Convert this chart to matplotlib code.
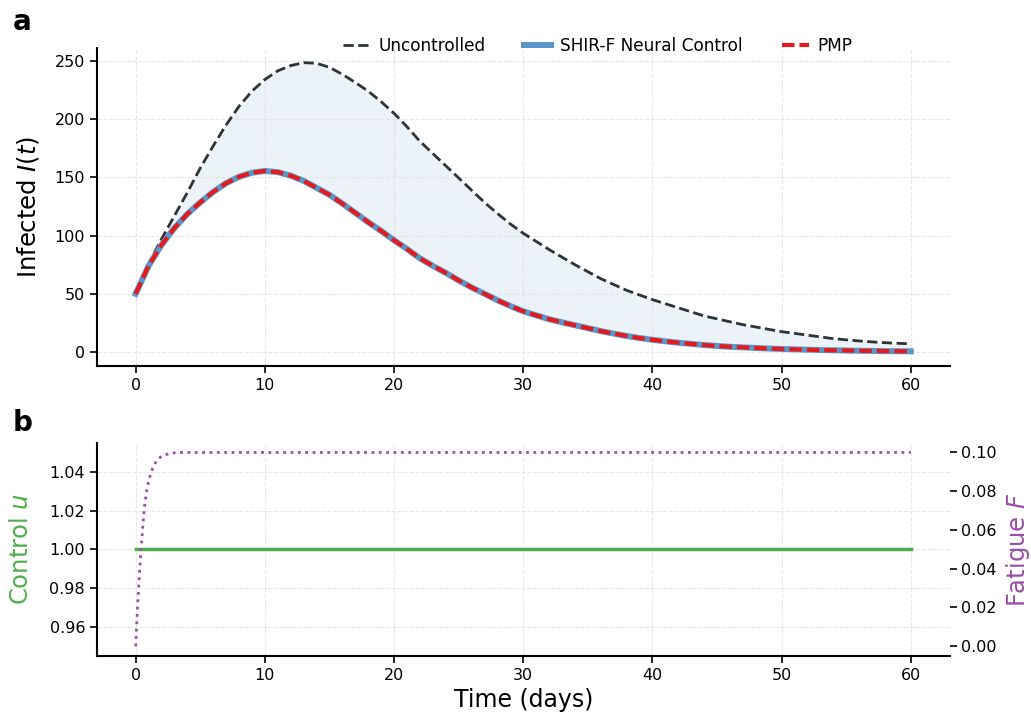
import numpy as np
import matplotlib
matplotlib.use("Agg")
import matplotlib.pyplot as plt

# infected curves (one value per day)
t_days = list(range(0, 61))
I_uncontrolled = [50, 76, 97, 117, 137, 158, 177, 195, 211, 224,
                  234, 241.5, 246, 248.5, 248, 244.5, 238.5, 231.5, 224, 215,
                  205, 193.5, 181, 170.5, 160, 149.5, 139, 128.5, 119, 110,
                  102, 95, 88, 81.5, 75, 69, 63, 58, 53, 49,
                  45, 41.5, 38, 34.5, 31, 28.5, 26, 23.5, 21.5, 19.5,
                  17.5, 16, 14.5, 13, 11.5, 10.5, 9.5, 8.7, 8, 7.5, 7]
I_neural = [50, 74, 92, 106.5, 118.5, 128.5, 137.5, 145, 150.5, 154,
            155.5, 154.5, 151.5, 147, 141, 135, 127.5, 119.5, 111.5, 104,
            96, 88.5, 80.5, 74, 68, 61.5, 55.5, 50, 44.5, 39.5,
            35, 31.5, 28.2, 25.5, 23, 20.5, 18, 15.8, 13.8, 12,
            10.5, 9.2, 8, 7, 6, 5.2, 4.5, 4, 3.5, 3,
            2.6, 2.3, 2, 1.7, 1.5, 1.3, 1.1, 0.95, 0.8, 0.7, 0.6]
I_pmp = [50, 74, 92, 106.5, 118.5, 128.5, 137.5, 145, 150.5, 154,
         155.5, 154.5, 151.5, 147, 141, 135, 127.5, 119.5, 111.5, 104,
         96, 88.5, 80.5, 74, 68, 61.5, 55.5, 50, 44.5, 39.5,
         35, 31.5, 28.2, 25.5, 23, 20.5, 18, 15.8, 13.8, 12,
         10.5, 9.2, 8, 7, 6, 5.2, 4.5, 4, 3.5, 3,
         2.6, 2.3, 2, 1.7, 1.5, 1.3, 1.1, 0.95, 0.8, 0.7, 0.6]

# control and fatigue
t_ctrl = [0, 60]
u_ctrl = [1.0, 1.0]
t_fat = [0, 0.05, 0.1, 0.15, 0.2, 0.3, 0.4, 0.5, 0.6, 0.7, 0.8, 0.9, 1.0, 1.2, 1.4,
         1.6, 1.8, 2.0, 2.3, 2.6, 3.0, 3.5, 4.0, 60]
F_fat = [0, 0.007, 0.014, 0.021, 0.027, 0.038, 0.048, 0.057, 0.066, 0.073, 0.078, 0.082, 0.085,
         0.090, 0.093, 0.0955, 0.097, 0.098, 0.0988, 0.0994, 0.0998, 0.1, 0.1, 0.1]

c_unc = "#2d3436"
c_nn = "#5b96c8"
c_pmp = "#e41a1c"
c_u = "#4daf4a"
c_f = "#984ea3"

fig = plt.figure(figsize=(10.31, 7.2), dpi=100)
ax1 = fig.add_axes([0.094, 0.492, 0.827, 0.441])
ax2 = fig.add_axes([0.094, 0.089, 0.827, 0.296])


def style(ax):
    for s in ["top", "right"]:
        ax.spines[s].set_visible(False)
    for s in ["left", "bottom"]:
        ax.spines[s].set_linewidth(1.5)
    ax.tick_params(labelsize=11.5, length=5, width=1.2)
    ax.grid(True, ls="--", lw=0.8, color="#dddddd", alpha=0.7)


# panel a
ax1.fill_between(t_days, I_neural, I_uncontrolled, color=c_nn, alpha=0.12, lw=0)
ax1.plot(t_days, I_uncontrolled, "--", color=c_unc, lw=2, label="Uncontrolled")
ax1.plot(t_days, I_neural, "-", color=c_nn, lw=4.3, label="SHIR-F Neural Control")
ax1.plot(t_days, I_pmp, "--", color=c_pmp, lw=3, dashes=(3, 1.2), label="PMP")
style(ax1)
ax1.set_xticks(np.arange(0, 61, 10))
ax1.set_yticks(np.arange(0, 251, 50))
ax1.set_ylabel("Infected $I(t)$", fontsize=17.5, labelpad=10)
ax1.legend(loc="center", bbox_to_anchor=(0.587, 1.006), ncol=3, frameon=False,
           fontsize=12.2, handlelength=1.6, handletextpad=0.5, columnspacing=2.3)

# panel b
ax2.plot(t_ctrl, u_ctrl, "-", color=c_u, lw=2.5)
style(ax2)
ax2.set_xticks(np.arange(0, 61, 10))
ax2.set_ylabel("Control $u$", fontsize=17.5, color=c_u, labelpad=12)
ax2.set_xlabel("Time (days)", fontsize=17)

ax3 = ax2.twinx()
ax3.plot(t_fat, F_fat, ":", color=c_f, lw=2)
for s in ["top", "right", "left", "bottom"]:
    ax3.spines[s].set_visible(False)
ax3.tick_params(labelsize=11.5, length=5, width=1.2)
ax3.set_yticks(np.arange(0, 0.101, 0.02))
ax3.set_ylabel("Fatigue $F$", fontsize=17.5, color=c_f, labelpad=5)
ax2.set_xlim(ax1.get_xlim())

fig.text(0.012, 0.97, "a", fontsize=20, fontweight="bold", va="center")
fig.text(0.012, 0.412, "b", fontsize=20, fontweight="bold", va="center")

fig.savefig("out.png", dpi=100)
